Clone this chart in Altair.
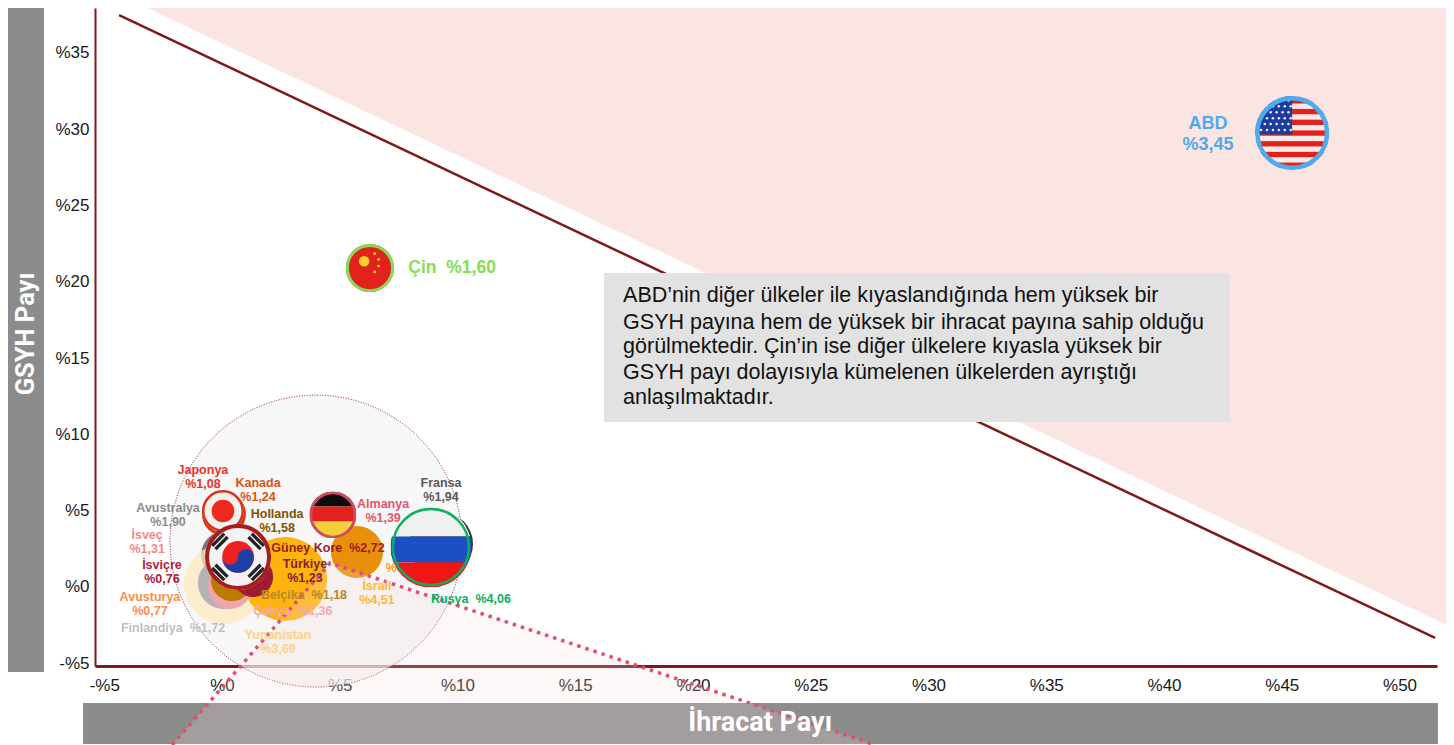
from urllib.parse import quote
import altair as alt
import pandas as pd

X_DOMAIN = [-5.393, 51.59]
Y_DOMAIN = [-5.177, 37.94]
X_TICKS = [-5, 0, 5, 10, 15, 20, 25, 30, 35, 40, 45, 50]
Y_TICKS = [-5, 0, 5, 10, 15, 20, 25, 30, 35]

bubble_x = [0.13, 0.08, 2.68, 5.73, 0.08, 0.34, 0.34, 0.42, 1.32, 9.30, 0.08]
bubble_y = [2.10, 0.20, 0.52, 2.29, 0.26, 0.59, 0.00, 0.46, 0.66, 2.82, 4.78]
bubble_r = [24, 40, 42, 26, 26, 20, 22, 21, 20, 32, 22]
bubble_c = ["#777777", "#fde9bd", "#ffb000", "#e8900a", "#b4b4b4", "#ff8c4a",
            "#f0a4ae", "#b87a00", "#9e1b32", "#3a3a3a", "#d9330f"]
bubble_o = [1, 0.75, 0.95, 1, 1, 1, 1, 1, 1, 1, 1]

NB = "\u00a0\u00a0"
label_x = [-0.81, 1.53, 2.34, -2.29, -3.18, -2.55, -3.06, -2.08, 2.38, 4.50,
           3.52, 3.48, 3.01, 6.58, 6.84, 9.30, 10.57, 7.18]
label_y = [7.67, 6.82, 4.79, 5.18, 3.41, 1.44, -0.65, -2.69, -3.14, 2.56,
           1.51, -0.52, -1.57, 0.07, 5.44, 6.82, -0.79, 1.25]
label_t = ["Japonya\n%1,08", "Kanada\n%1,24", "Hollanda\n%1,58", "Avustralya\n%1,90",
           "İsveç\n%1,31", "İsviçre\n%0,76", "Avusturya\n%0,77", "Finlandiya" + NB + "%1,72",
           "Yunanistan\n%3,69", "Güney Kore" + NB + "%2,72", "Türkiye\n%1,23", "Belçika" + NB + "%1,18",
           "Çekya" + NB + "%1,36", "İsrail\n%4,51", "Almanya\n%1,39", "Fransa\n%1,94",
           "Rusya" + NB + "%4,06", "%"]
label_c = ["#e8332a", "#d9530f", "#7f5200", "#8c8c8c", "#f08a8a", "#b01a3c", "#ff8c4a",
           "#bfbfbf", "#ffd27f", "#9b1c1c", "#7f1d2d", "#b9852b", "#f2a9b6", "#ffb833",
           "#e0566f", "#595959", "#0bb060", "#f0a020"]

note_lines = ["ABD’nin diğer ülkeler ile kıyaslandığında hem yüksek bir",
              "GSYH payına hem de yüksek bir ihracat payına sahip olduğu",
              "görülmektedir. Çin’in ise diğer ülkelere kıyasla yüksek bir",
              "GSYH payı dolayısıyla kümelenen ülkelerden ayrıştığı",
              "anlaşılmaktadır."]
note_y = [19.07, 17.30, 15.73, 14.02, 12.39]


def flag(body, ring):
    inner = (
        "<svg xmlns='http://www.w3.org/2000/svg' viewBox='0 0 100 100'>"
        "<defs><clipPath id='c'><circle cx='50' cy='50' r='50'/></clipPath>"
        "<filter id='b'><feGaussianBlur stdDeviation='0.8'/></filter></defs>"
        f"<g clip-path='url(#c)'><g filter='url(#b)'>{body}</g></g>"
        f"<circle cx='50' cy='50' r='47' fill='none' stroke='{ring[0]}' stroke-width='{ring[1]}'/>"
        "</svg>"
    )
    return "data:image/svg+xml;charset=utf-8," + quote(inner)


def us_body():
    s = "<rect width='100' height='100' fill='#f8e8e8'/>"
    for i in range(7):
        s += f"<rect y='{3 + i * 14.5}' width='100' height='7.2' fill='#e0221c'/>"
    s += "<rect width='50' height='52' fill='#1f3d9c'/>"
    for i in range(6):
        for j in range(6):
            s += f"<circle cx='{5 + j * 8 + (i % 2) * 3}' cy='{6 + i * 8}' r='1.7' fill='#eef'/>"
    return s


def cn_body():
    s = "<rect width='100' height='100' fill='#e2201c'/>"
    for cx, cy, r in [(38, 36, 11), (60, 20, 3), (68, 32, 3), (68, 46, 3), (60, 58, 3)]:
        s += f"<circle cx='{cx}' cy='{cy}' r='{r}' fill='#f6d12a'/>"
    return s


def jp_body():
    return "<rect width='100' height='100' fill='#f4f0ee'/><circle cx='50' cy='50' r='27' fill='#ee2a1c'/>"


def de_body():
    return ("<rect width='100' height='32' fill='#0a0a0a'/>"
            "<rect y='32' width='100' height='32' fill='#e2231a'/>"
            "<rect y='64' width='100' height='36' fill='#f5cf3a'/>")


def ru_body():
    return ("<rect width='100' height='37' fill='#f0f0f0'/>"
            "<rect y='37' width='100' height='32' fill='#1c4fc4'/>"
            "<rect y='69' width='100' height='31' fill='#f01818'/>")


def kr_body():
    s = "<rect width='100' height='100' fill='#f4f2f2'/>"
    s += "<circle cx='50' cy='50' r='24' fill='#ee2020'/>"
    s += "<path d='M26 50 A24 24 0 0 0 74 50 A12 12 0 0 0 50 50 A12 12 0 0 1 26 50' fill='#1c3fa8'/>"
    for cx, cy, a in [(20, 24, -45), (80, 24, 45), (20, 76, 45), (80, 76, -45)]:
        for k in (-7, 0, 7):
            s += (f"<rect x='{cx - 13}' y='{cy + k - 2.5}' width='26' height='5' fill='#222' "
                  f"transform='rotate({a} {cx} {cy})'/>")
    return s


flags = [
    (45.44, 29.75, 37, us_body(), ("#4faaee", 6)),
    (6.28, 20.90, 24, cn_body(), ("#84dd55", 6)),
    (0.04, 4.98, 21, jp_body(), ("#d8301c", 6)),
    (0.68, 1.97, 33, kr_body(), ("#a81c1c", 6)),
    (4.71, 4.72, 23.5, de_body(), ("#d14a60", 6)),
    (8.87, 2.62, 40.5, ru_body(), ("#0bb060", 3)),
]

xs = alt.Scale(domain=X_DOMAIN, nice=False, zero=False)
ys = alt.Scale(domain=Y_DOMAIN, nice=False, zero=False)
pct = "datum.value < 0 ? '-%' + abs(datum.value) : '%' + datum.value"
X = alt.X("x:Q", scale=xs, title=None,
          axis=alt.Axis(values=X_TICKS, labelExpr=pct, ticks=False, grid=False, labelFont="Liberation Sans",
                        labelFontSize=17, labelColor="#1a1a1a", labelPadding=11, domainColor="#7f1a1a",
                        domainWidth=3, labelOverlap=False, labelFlush=False, title=None))
Y = alt.Y("y:Q", scale=ys, title=None,
          axis=alt.Axis(values=Y_TICKS, labelExpr=pct, ticks=False, grid=False, labelFont="Liberation Sans",
                        labelFontSize=17, labelColor="#1a1a1a", labelPadding=6, domainColor="#7f1a1a",
                        domainWidth=2, labelOverlap=False, labelFlush=False, title=None))
Xp, Yp = X, Y

grey = alt.Chart(pd.DataFrame({"x": [-9.3, -5.9], "x2": [-7.56, 51.63],
                               "y": [38.5, -7.6], "y2": [-5.57, -10.29]})).mark_rect(color="#8c8c8c").encode(
    x=X, x2="x2:Q", y=Y, y2="y2:Q")

pink = alt.Chart(pd.DataFrame({"x": [-3.61, 52], "y": [38.27, -2.49], "y2": [38.27, 38.27]})).mark_area(
    color="#fbe5e3").encode(x=Xp, y=Yp, y2="y2:Q")

line = alt.Chart(pd.DataFrame({"x": [-4.37, 51.51], "y": [37.48, -3.34]})).mark_line(
    color="#7f1a1a", strokeWidth=2.5).encode(x=Xp, y=Yp)

ring = alt.Chart(pd.DataFrame({"x": [3.99], "y": [3.01], "s": [4 * 146 ** 2]})).mark_point(
    filled=False, fill="#f3f3f3", fillOpacity=0.65, stroke="#8b1a2b", strokeWidth=1,
    strokeDash=[1, 1.6], opacity=1, shape="circle").encode(x=Xp, y=Yp, size=alt.Size("s:Q", scale=None))

bubbles = alt.Chart(pd.DataFrame({
    "x": bubble_x, "y": bubble_y, "s": [4 * r ** 2 for r in bubble_r],
    "c": bubble_c, "o": bubble_o})).mark_circle().encode(
    x=Xp, y=Yp, size=alt.Size("s:Q", scale=None), color=alt.Color("c:N", scale=None),
    opacity=alt.Opacity("o:Q", scale=None))

flag_layers = []
for fx, fy, fr, body, rg in flags:
    flag_layers.append(
        alt.Chart(pd.DataFrame({"x": [fx], "y": [fy]})).mark_image(
            url=flag(body, rg), width=2 * fr, height=2 * fr, aspect=False).encode(x=Xp, y=Yp))

fan = alt.Chart(pd.DataFrame({"x": [-2.12, 4.59, 27.73], "y": [-10.35, 1.57, -10.35],
                              "y2": [-10.35, -10.35, -10.35]})).mark_area(
    color="#f5dcdc", opacity=0.22).encode(x=Xp, y=Yp, y2="y2:Q")

dots = alt.Chart(pd.DataFrame({"x": [-2.12, 4.59, 27.73], "y": [-10.35, 1.57, -10.35]})).mark_line(
    color="#e0506e", strokeWidth=3.5, strokeDash=[3.5, 5]).encode(x=Xp, y=Yp)

labels = alt.Chart(pd.DataFrame({"x": label_x, "y": label_y, "t": label_t, "c": label_c})).mark_text(
    font="Liberation Sans", fontWeight="bold", fontSize=12.5, lineBreak="\n", lineHeight=14,
    align="center", baseline="middle").encode(x=Xp, y=Yp, text="t:N", color=alt.Color("c:N", scale=None))

abd = alt.Chart(pd.DataFrame({"x": [41.87], "y": [30.31], "t": ["ABD\n%3,45"]})).mark_text(
    font="Liberation Sans", fontWeight="bold", fontSize=18, lineBreak="\n", lineHeight=21, color="#4faaee"
).encode(x=Xp, y=Yp, text="t:N")

cin = alt.Chart(pd.DataFrame({"x": [9.77], "y": [20.90], "t": ["Çin" + NB + "%1,60"]})).mark_text(
    font="Liberation Sans", fontWeight="bold", fontSize=17.5, color="#84dd55"
).encode(x=Xp, y=Yp, text="t:N")

box = alt.Chart(pd.DataFrame({"x": [16.22], "x2": [42.8], "y": [20.58], "y2": [10.81]})).mark_rect(
    color="#e2e2e2").encode(x=Xp, x2="x2:Q", y=Yp, y2="y2:Q")

note = alt.Chart(pd.DataFrame({"x": [17.03] * 5, "y": note_y, "t": note_lines})).mark_text(
    font="Liberation Sans", fontSize=21.5, color="#111111", align="left", baseline="middle"
).encode(x=Xp, y=Yp, text="t:N")

xtitle = alt.Chart(pd.DataFrame({"x": [22.85], "y": [-8.91], "t": ["İhracat Payı"]})).mark_text(
    font="Roboto", fontWeight="bold", fontSize=27, color="white").encode(x=Xp, y=Yp, text="t:N")
ytitle = alt.Chart(pd.DataFrame({"x": [-8.33], "y": [16.58], "t": ["GSYH Payı"]})).mark_text(
    font="Roboto", fontWeight="bold", fontSize=25.5, color="white", angle=270).encode(x=Xp, y=Yp, text="t:N")

chart = alt.layer(
    grey, pink, ring, line, bubbles, *flag_layers, fan, dots, labels, abd, cin,
    box, note, xtitle, ytitle).properties(
    width=1342, height=658,
    padding={"left": 87, "top": 0, "right": 9, "bottom": 79},
    autosize=alt.AutoSizeParams(type="none"),
    background="white",
).configure_view(stroke=None)

chart.save("out.html", embed_options={"renderer": "svg", "actions": False})
